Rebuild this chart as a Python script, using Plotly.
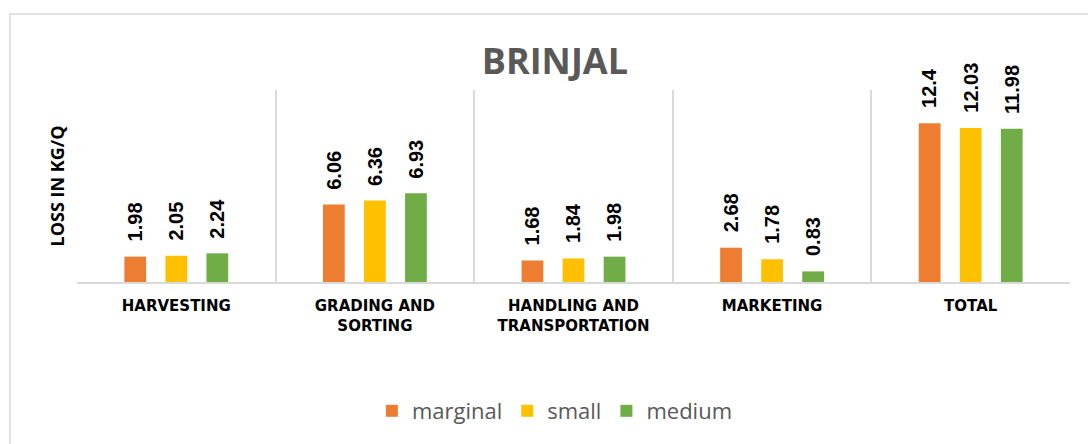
import plotly.graph_objects as go

categories = ["HARVESTING", "GRADING AND<br>SORTING", "HANDLING AND<br>TRANSPORTATION", "MARKETING", "TOTAL"]
series_names = ["marginal", "small", "medium"]
marginal = [1.98, 6.06, 1.68, 2.68, 12.4]
small = [2.05, 6.36, 1.84, 1.78, 12.03]
medium = [2.24, 6.93, 1.98, 0.83, 11.98]
labels_marginal = ["1.98", "6.06", "1.68", "2.68", "12.4"]
labels_small = ["2.05", "6.36", "1.84", "1.78", "12.03"]
labels_medium = ["2.24", "6.93", "1.98", "0.83", "11.98"]
colors = ["#ED7D31", "#FFC000", "#70AD47"]

W, H = 1088, 444
ML, MR, MT, MB = 77, 18, 90, 162
BARGAP = 0.38
GROUPGAP = 0.47

fig = go.Figure()
all_values = [marginal, small, medium]
all_labels = [labels_marginal, labels_small, labels_medium]
for name, vals, col in zip(series_names, all_values, colors):
    fig.add_trace(go.Bar(
        name=name, x=categories, y=vals,
        marker=dict(color=col, line=dict(width=0)),
        hoverinfo="x+y",
    ))

# data labels
plot_w = W - ML - MR
slot = plot_w / len(categories) * (1 - BARGAP) / 3
annotations = []
for i, (vals, labs) in enumerate(zip(all_values, all_labels)):
    for c, v, t in zip(categories, vals, labs):
        annotations.append(dict(
            x=c, y=v, xref="x", yref="y", text=t, showarrow=False,
            textangle=-90, xanchor="center", yanchor="bottom",
            xshift=(i - 1) * slot, yshift=13,
            font=dict(family="Liberation Sans, Arial", size=20, color="#000000", weight="bold"),
        ))

fig.update_layout(
    width=W, height=H,
    margin=dict(l=ML, r=MR, t=MT, b=MB, pad=0),
    paper_bgcolor="white", plot_bgcolor="white",
    barmode="group", bargap=BARGAP, bargroupgap=GROUPGAP,
    title=dict(text="<b>BRINJAL</b>", x=0.51, xref="container", xanchor="center",
               y=1 - 61 / H, yref="container", yanchor="middle",
               font=dict(family="Open Sans", size=36, color="#595959")),
    xaxis=dict(type="category", tickson="boundaries", showgrid=True, gridcolor="#D9D9D9", gridwidth=1.5,
               showline=True, linecolor="#D9D9D9", linewidth=2, ticks="",
               ticklabelstandoff=9,
               tickfont=dict(family="DejaVu Sans", size=15, color="#000000", weight="bold"),
               fixedrange=True),
    yaxis=dict(range=[0, 15], showticklabels=False, showgrid=False, zeroline=False, showline=False,
               title=dict(text="<b>LOSS IN KG/Q</b>", standoff=6,
                          font=dict(family="Open Sans", size=18, color="#000000")),
               fixedrange=True),
    legend=dict(orientation="h", xref="container", yref="container", x=0.51, y=1 - 411 / H,
                xanchor="center", yanchor="middle", itemwidth=30,
                font=dict(family="Open Sans", size=22, color="#595959"), traceorder="normal"),
    showlegend=True,
    annotations=annotations,
    shapes=[dict(type="rect", xref="paper", yref="paper",
                 x0=(10 - ML) / plot_w, x1=(W + 20 - ML) / plot_w,
                 y0=-(H + 20 - (H - MB)) / (H - MT - MB), y1=((H - MB) - 14) / (H - MT - MB),
                 line=dict(color="#D9D9D9", width=1.5), fillcolor="rgba(0,0,0,0)", layer="below")],
)

fig.write_html("out.html")
